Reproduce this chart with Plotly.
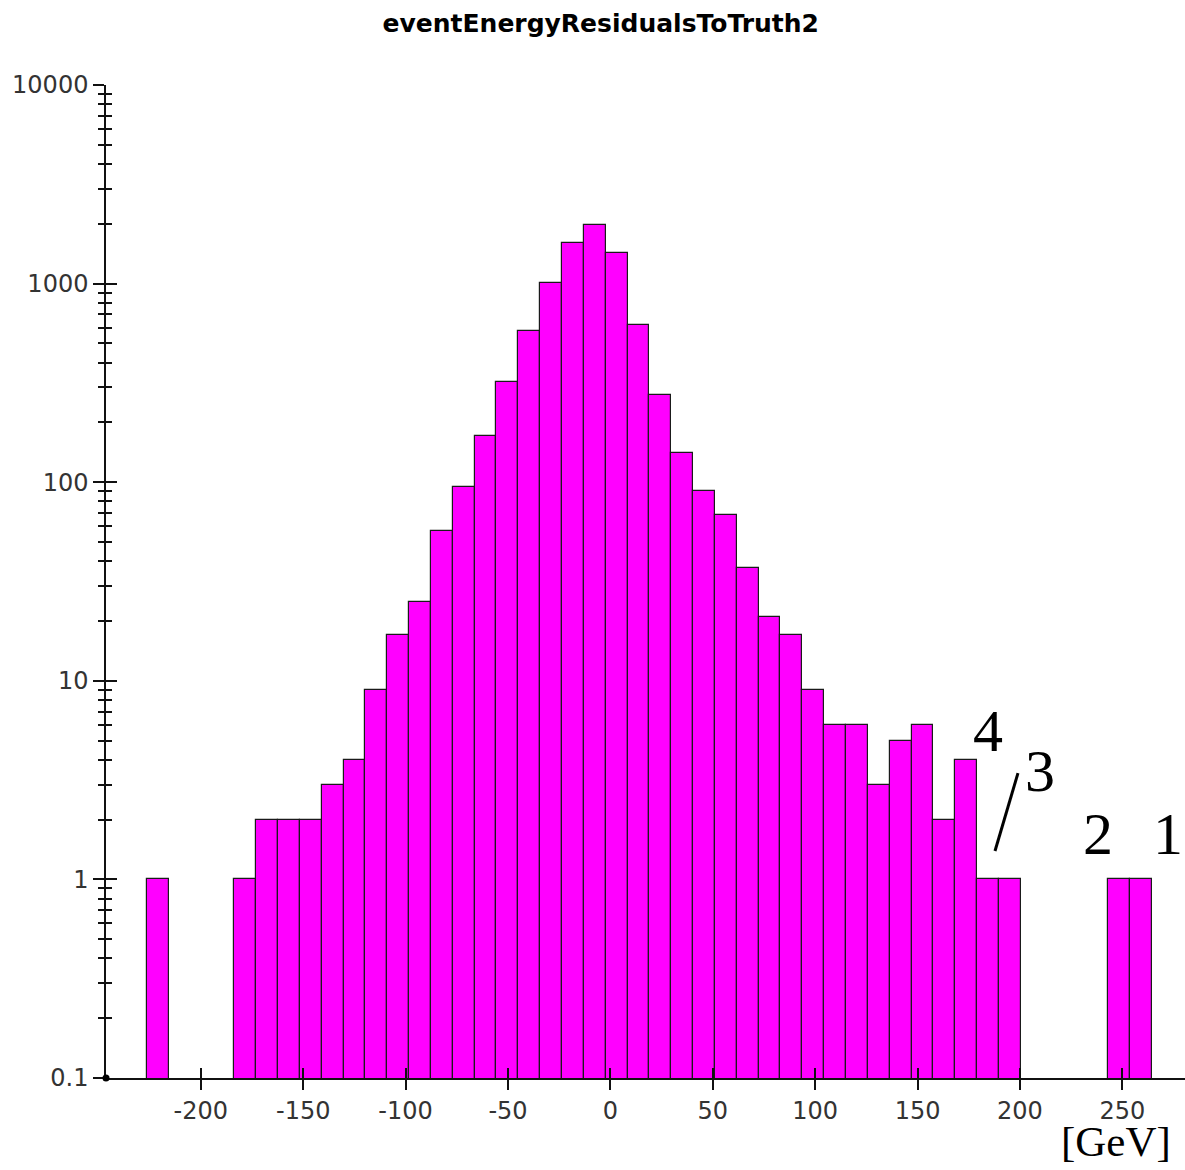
import plotly.graph_objects as go

# ---------------- data ----------------
title_text = "eventEnergyResidualsToTruth2"
bin_first_edge = -226.3      # GeV, left edge of first bin
bin_width = 10.667           # GeV
counts = [1, 0, 0, 0,
          1, 2, 2, 2, 3, 4, 9, 17, 25, 57, 95, 170, 320, 580, 1010, 1600,
          1980, 1430, 620, 275, 140, 90, 68, 37, 21, 17, 9, 6, 6, 3, 5, 6,
          2, 4, 1, 1,
          0, 0, 0, 0,
          1, 1]
x_tick_vals = [-200, -150, -100, -50, 0, 50, 100, 150, 200, 250]
x_tick_text = ["-200", "-150", "-100", "-50", "0", "50", "100", "150", "200", "250"]
y_tick_vals = [0.1, 1, 10, 100, 1000, 10000]
y_tick_text = ["0.1", "1", "10", "100", "1000", "10000"]
x_range = [-246.3, 280.6]
y_log_range = [-1, 4]
labels_text = ["4", "3", "2", "1"]
unit_text = "[GeV]"

# ---------------- build bars ----------------
centers, heights = [], []
for i, c in enumerate(counts):
    if c > 0:
        centers.append(bin_first_edge + (i + 0.5) * bin_width)
        heights.append(c)

fig = go.Figure()
fig.add_trace(go.Bar(
    x=centers, y=heights, width=bin_width,
    marker=dict(color="#ff00ff", line=dict(color="#1a1a1a", width=1.2)),
    hoverinfo="x+y", showlegend=False,
))
# invisible helper traces so the overlaid tick-only axes get drawn
fig.add_trace(go.Scatter(x=[0], y=[1], xaxis="x", yaxis="y2", mode="markers",
                         marker=dict(opacity=0), hoverinfo="skip", showlegend=False))
fig.add_trace(go.Scatter(x=[0], y=[1], xaxis="x2", yaxis="y", mode="markers",
                         marker=dict(opacity=0), hoverinfo="skip", showlegend=False))

# minor tick positions for log axis
minor_vals = [m * 10 ** e for e in range(-1, 4) for m in range(2, 10)]

tickfont = dict(family="DejaVu Sans", size=24, color="#333333")

fig.update_layout(
    width=1185, height=1170,
    margin=dict(l=106, r=0, t=85, b=92),
    paper_bgcolor="white", plot_bgcolor="white",
    bargap=0, showlegend=False,
    title=dict(text="<b>" + title_text + "</b>", x=0.507, xanchor="center",
               y=0.980, yanchor="middle", xref="container", yref="container",
               font=dict(family="DejaVu Sans", size=25, color="black")),
    xaxis=dict(range=x_range, showgrid=False, zeroline=False,
               showline=True, linecolor="#111111", linewidth=1.5,
               ticks="outside", ticklen=10, tickwidth=1.5, tickcolor="#111111",
               tickmode="array", tickvals=x_tick_vals, ticktext=x_tick_text,
               tickfont=tickfont),
    xaxis2=dict(range=x_range, overlaying="x", anchor="y", side="bottom",
                showgrid=False, zeroline=False, showline=False,
                ticks="inside", ticklen=10, tickwidth=1.5, tickcolor="#111111",
                tickmode="array", tickvals=x_tick_vals, showticklabels=False),
    yaxis=dict(type="log", range=y_log_range, showgrid=False, zeroline=False,
               showline=True, linecolor="#111111", linewidth=1.5,
               ticks="outside", ticklen=11, tickwidth=1.5, tickcolor="#111111",
               tickmode="array", tickvals=y_tick_vals, ticktext=y_tick_text,
               tickfont=tickfont,
               minor=dict(tickmode="array", tickvals=minor_vals, ticks="outside",
                          ticklen=6, tickwidth=1.5, tickcolor="#111111", showgrid=False)),
    yaxis2=dict(type="log", range=y_log_range, overlaying="y", anchor="x", side="left",
                showgrid=False, zeroline=False, showline=False,
                ticks="inside", ticklen=11, tickwidth=1.5, tickcolor="#111111",
                tickmode="array", tickvals=y_tick_vals, showticklabels=False,
                minor=dict(tickmode="array", tickvals=minor_vals, ticks="inside",
                           ticklen=6, tickwidth=1.5, tickcolor="#111111", showgrid=False)),
)

# ---------------- hand-written style labels ----------------
serif = "Liberation Serif"
label_pos = [(0.8174, 0.3494, "center"), (0.8652, 0.3092, "center"),
             (0.9198, 0.2457, "center"), (1.0, 0.2457, "right")]
for txt, (xp, yp, xa) in zip(labels_text, label_pos):
    fig.add_annotation(text=txt, xref="paper", yref="paper", x=xp, y=yp,
                       xanchor=xa, yanchor="middle", showarrow=False,
                       font=dict(family=serif, size=60, color="black"))
fig.add_annotation(text=unit_text, xref="paper", yref="paper", x=0.9365, y=-0.0640,
                   xanchor="center", yanchor="middle", showarrow=False, borderpad=0,
                   font=dict(family=serif, size=43, color="black"))
fig.add_shape(type="line", xref="paper", yref="paper",
              x0=0.8452, y0=0.3071, x1=0.8239, y1=0.2286,
              line=dict(color="black", width=3))
# small dot at the axes origin
fig.add_shape(type="circle", xref="paper", yref="paper",
              x0=-3.5 / 1079, x1=3.5 / 1079, y0=-3.5 / 993, y1=3.5 / 993,
              fillcolor="black", line=dict(color="black", width=0))

fig.write_html("out.html")
